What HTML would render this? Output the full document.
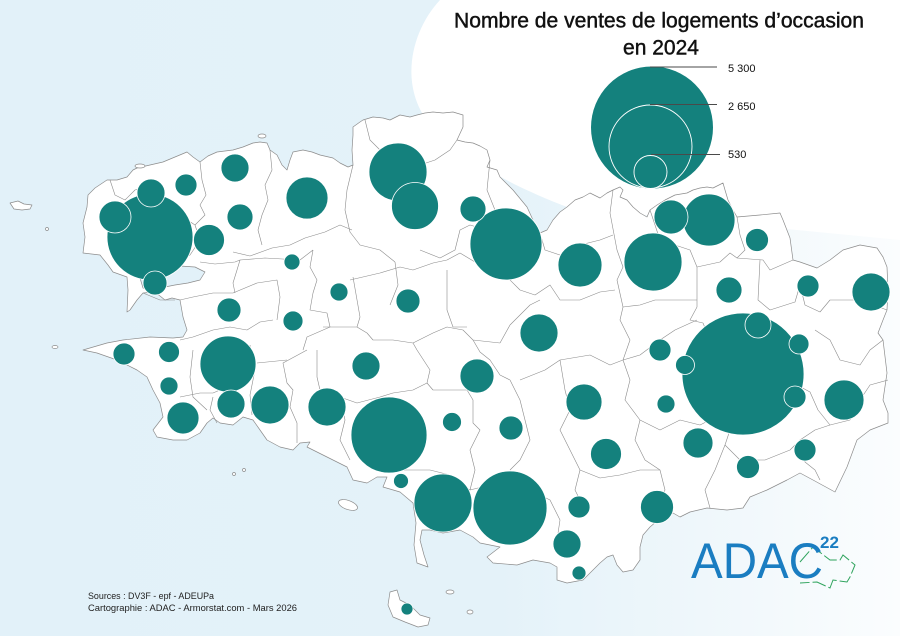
<!DOCTYPE html>
<html><head><meta charset="utf-8"><style>
html,body{margin:0;padding:0;background:#fff;}
svg{display:block;}
</style></head><body>
<svg width="900" height="636" viewBox="0 0 900 636" xmlns="http://www.w3.org/2000/svg">
<defs>
<linearGradient id="sea" x1="0" y1="0" x2="1" y2="0">
<stop offset="0" stop-color="#e2f1f9"/>
<stop offset="0.55" stop-color="#e4f2f9"/>
<stop offset="0.78" stop-color="#eff7fb"/>
<stop offset="1" stop-color="#fbfdfe"/>
</linearGradient>
</defs>
<rect x="0" y="0" width="900" height="636" fill="url(#sea)"/>
<path d="M440,0 C412,30 400,80 425,118 C450,150 500,182 570,208 L900,240 L900,0 Z" fill="#ffffff"/>

<g fill="#ffffff" stroke="#8c8c8c" stroke-width="0.7" stroke-linejoin="round">
<path d="M88,195 L95,188 L107,180 L117,180 L127,177 L133,170 L137,168 L150,165 L163,162 L175,157 L187,152 L193,157 L200,162 L208,156 L217,152 L225,151 L233,150 L243,147 L253,143 L260,142 L267,143 L270,150 L277,155 L282,165 L287,170 L290,160 L293,152 L303,150 L312,152 L320,155 L333,158 L340,163 L348,167 L353,165 L352,150 L353,135 L353,127 L360,122 L363,120 L373,117 L383,118 L390,120 L400,115 L410,117 L417,115 L425,113 L433,112 L443,113 L453,112 L463,115 L463,127 L457,140 L465,142 L473,143 L480,146 L487,150 L490,160 L487,167 L497,170 L500,177 L513,190 L527,207 L533,220 L540,233 L547,230 L553,220 L560,212 L567,207 L575,200 L583,197 L590,193 L600,198 L607,193 L613,190 L620,187 L623,190 L620,197 L627,200 L633,207 L640,213 L647,217 L650,210 L657,205 L665,200 L675,195 L687,193 L693,190 L700,188 L707,187 L713,188 L723,183 L725,190 L728,200 L733,210 L737,217 L760,215 L780,213 L783,220 L790,238 L793,260 L800,262 L817,268 L830,260 L843,250 L860,245 L877,248 L883,257 L887,267 L888,290 L887,310 L883,320 L878,333 L883,340 L887,373 L883,400 L888,413 L888,423 L870,430 L857,440 L847,467 L835,492 L813,480 L800,473 L787,480 L767,490 L750,497 L743,508 L727,510 L707,508 L690,512 L680,517 L673,513 L657,521 L650,527 L643,535 L640,547 L640,560 L633,570 L623,572 L617,565 L613,555 L607,557 L600,563 L593,570 L583,580 L567,583 L557,580 L557,567 L550,563 L533,560 L517,565 L493,563 L487,557 L500,547 L480,543 L473,537 L460,530 L443,533 L430,530 L422,530 L420,540 L424,555 L428,567 L417,563 L414,545 L416,523 L413,503 L400,492 L383,487 L387,477 L377,477 L367,483 L353,480 L347,467 L333,460 L307,447 L310,442 L300,443 L293,450 L280,447 L267,440 L260,430 L253,420 L243,417 L233,425 L220,423 L213,418 L207,423 L200,433 L187,440 L173,440 L157,437 L153,430 L163,417 L160,403 L153,390 L147,377 L137,370 L117,360 L97,353 L83,350 L107,343 L123,340 L150,337 L173,338 L183,337 L187,330 L183,317 L180,300 L172,298 L165,300 L155,292 L143,293 L137,300 L130,310 L127,312 L128,290 L127,277 L113,272 L108,265 L100,255 L83,253 L85,237 L83,223 L87,207 Z"/>
<path d="M140,278 L150,275 L165,270 L180,266 L195,267 L205,272 L200,280 L188,283 L175,285 L160,288 L150,290 L143,288 Z" fill="#e2f1f9"/>
<path d="M10,203 L18,201 L24,204 L32,205 L30,209 L22,210 L14,209 Z"/>
<path d="M390,592 L397,590 L400,600 L410,605 L420,615 L430,618 L428,625 L418,627 L405,622 L393,617 L388,605 Z"/>
<ellipse cx="348" cy="505" rx="10" ry="4.5" transform="rotate(20 348 505)"/>
<ellipse cx="450" cy="592" rx="4" ry="2"/>
<ellipse cx="470" cy="612" rx="3" ry="2"/>
<ellipse cx="55" cy="347" rx="3" ry="1.5"/>
<ellipse cx="47" cy="229" rx="1.5" ry="1.5"/>
<ellipse cx="140" cy="166" rx="5" ry="2"/>
<ellipse cx="262" cy="136" rx="4" ry="2"/>
<ellipse cx="234" cy="474" rx="1.5" ry="1.5"/>
<ellipse cx="244" cy="470" rx="1.5" ry="1.5"/>
</g>

<g fill="none" stroke="#8c8c8c" stroke-width="0.6" stroke-linejoin="round">
<polyline points="200,162 202,180 206,195 200,205 205,215 195,225"/>
<polyline points="270,150 272,170 265,185 268,200 262,215 258,230 262,245"/>
<polyline points="233,252 250,256 272,248 290,245 305,238 325,232 340,225 352,230"/>
<polyline points="200,262 215,264 235,262 240,260 237,270 233,283 235,293"/>
<polyline points="240,260 265,258 300,260 313,250"/>
<polyline points="180,300 193,297 213,293 233,293 257,283 277,280 280,297 277,320"/>
<polyline points="180,340 193,337 213,330 230,327 247,330 260,322 273,320"/>
<polyline points="313,250 310,267 317,280 313,293 310,310 327,313 330,327 307,337 303,350"/>
<polyline points="323,327 357,327 367,333 373,340 393,340 413,343 433,333 447,327 463,330 473,340 500,343"/>
<polyline points="353,277 360,317 357,327"/>
<polyline points="350,280 380,273 400,267 413,270 433,263 447,260 460,253"/>
<polyline points="447,270 447,293 447,310 453,327 467,327"/>
<polyline points="307,350 283,363 287,383 293,390 290,407 297,423 297,443"/>
<polyline points="257,363 287,360"/>
<polyline points="317,350 317,377 320,390 340,397 357,403 380,397 393,393 413,390 427,383 430,370 417,350 413,343"/>
<polyline points="427,383 433,390 467,390 473,400 473,423 480,430 470,450 475,470 470,490"/>
<polyline points="193,350 190,377 193,397 207,410"/>
<polyline points="180,397 200,393 213,393 220,390"/>
<polyline points="213,397 210,410 217,423"/>
<polyline points="353,165 347,190 345,210 350,232 360,245 380,250 395,262"/>
<polyline points="395,262 398,285 390,305"/>
<polyline points="420,250 440,258 455,250 460,230 470,225 487,230 490,215"/>
<polyline points="460,253 475,262 490,257 500,270 520,290 535,295 550,285 560,300 580,300 600,292 615,290"/>
<polyline points="490,160 487,190 495,210 490,225"/>
<polyline points="613,190 610,213 617,250 623,267 617,280 623,307 620,320 630,340 623,360"/>
<polyline points="500,343 510,325 530,305 540,300"/>
<polyline points="473,340 480,352 490,360 500,375 510,380"/>
<polyline points="697,267 697,307 690,320 703,323 710,340 700,360"/>
<polyline points="697,267 720,262 730,253 737,258 763,260 770,270 793,260"/>
<polyline points="760,260 758,300 770,310 795,302 800,285 805,305 820,312 830,300 860,300 887,310"/>
<polyline points="623,307 640,305 655,300 680,300 697,300"/>
<polyline points="623,360 640,355 660,340 675,330 697,320"/>
<polyline points="520,380 545,370 560,360 590,355 610,365 623,360"/>
<polyline points="560,360 565,390 570,410 560,430 570,450 580,470 575,490 580,500"/>
<polyline points="510,380 520,400 525,420 530,440 520,460 510,470"/>
<polyline points="623,360 630,380 625,400 640,420 660,430 680,420 700,425 720,415"/>
<polyline points="640,420 635,440 645,460 660,470 665,490 657,505"/>
<polyline points="580,470 600,478 620,475 640,470 660,470"/>
<polyline points="720,415 730,430 725,445 740,460 765,460 790,450 800,440 815,430 830,425 850,420"/>
<polyline points="725,445 715,470 705,490 710,508"/>
<polyline points="800,440 805,462 815,470 820,480"/>
<polyline points="850,420 860,400 870,385 888,380"/>
<polyline points="815,330 830,340 840,360 860,365 870,350 883,340"/>
<polyline points="797,385 810,392 818,410 830,425"/>
<polyline points="470,490 490,485 510,480 530,490 550,500 560,520 557,540 560,555"/>
<polyline points="430,470 450,475 470,490"/>
<polyline points="370,455 385,465 400,470 420,470 430,470"/>
<polyline points="340,397 345,420 340,440 350,460"/>
<polyline points="250,345 255,370 250,395 252,415"/>
<polyline points="143,293 160,300 175,300"/>
<polyline points="130,205 150,212 165,210 180,215 195,225 200,240 190,255 178,262"/>
<polyline points="110,180 115,195 125,200 135,190 150,185 165,190"/>
<polyline points="365,120 370,140 380,150 395,150 405,160 420,165 435,160 450,150 457,140"/>
<polyline points="540,233 545,250 560,255 580,245 600,240 613,235"/>
<polyline points="650,210 655,225 660,240 675,245 690,250 697,267"/>
<polyline points="737,217 740,235 745,250 737,258"/>
</g>

<g fill="#14817d" stroke="#ffffff" stroke-width="0.8">
<circle cx="743" cy="374" r="61"/>
<circle cx="150" cy="237" r="43"/>
<circle cx="389" cy="435" r="38"/>
<circle cx="510" cy="508" r="37"/>
<circle cx="506" cy="244" r="36"/>
<circle cx="398" cy="172" r="29"/>
<circle cx="653" cy="262" r="29"/>
<circle cx="443" cy="503" r="29"/>
<circle cx="228" cy="364" r="28"/>
<circle cx="709" cy="220" r="26"/>
<circle cx="415" cy="206" r="23.5"/>
<circle cx="580" cy="265" r="22"/>
<circle cx="307" cy="198" r="21"/>
<circle cx="844" cy="400" r="20"/>
<circle cx="871" cy="292" r="19"/>
<circle cx="539" cy="333" r="19"/>
<circle cx="270" cy="405" r="19"/>
<circle cx="327" cy="407" r="19"/>
<circle cx="584" cy="402" r="18"/>
<circle cx="477" cy="376" r="17"/>
<circle cx="671" cy="217" r="17"/>
<circle cx="657" cy="507" r="16.5"/>
<circle cx="115" cy="217" r="16"/>
<circle cx="183" cy="418" r="16"/>
<circle cx="209" cy="240" r="15.5"/>
<circle cx="606" cy="454" r="15.5"/>
<circle cx="698" cy="443" r="15"/>
<circle cx="151" cy="193" r="14"/>
<circle cx="235" cy="168" r="14"/>
<circle cx="366" cy="366" r="14"/>
<circle cx="231" cy="404" r="14"/>
<circle cx="567" cy="544" r="14"/>
<circle cx="473" cy="209" r="13"/>
<circle cx="240" cy="217" r="13"/>
<circle cx="729" cy="290" r="13"/>
<circle cx="758" cy="325" r="13"/>
<circle cx="155" cy="283" r="12"/>
<circle cx="229" cy="310" r="12"/>
<circle cx="408" cy="301" r="12"/>
<circle cx="511" cy="428" r="12"/>
<circle cx="757" cy="240" r="11.5"/>
<circle cx="748" cy="467" r="11.5"/>
<circle cx="186" cy="185" r="11"/>
<circle cx="124" cy="354" r="11"/>
<circle cx="579" cy="507" r="11"/>
<circle cx="808" cy="286" r="11"/>
<circle cx="660" cy="350" r="11"/>
<circle cx="795" cy="397" r="11"/>
<circle cx="805" cy="450" r="11"/>
<circle cx="169" cy="352" r="10.5"/>
<circle cx="293" cy="321" r="10"/>
<circle cx="799" cy="344" r="10"/>
<circle cx="452" cy="422" r="9.5"/>
<circle cx="685" cy="365" r="9.5"/>
<circle cx="339" cy="292" r="9"/>
<circle cx="169" cy="386" r="9"/>
<circle cx="666" cy="404" r="9"/>
<circle cx="292" cy="262" r="8"/>
<circle cx="401" cy="481" r="7.5"/>
<circle cx="579" cy="573" r="7"/>
<circle cx="407" cy="609" r="6"/>
</g>

<g stroke="#ffffff" stroke-width="0.9" fill="#14817d">
<circle cx="652" cy="127.5" r="61" stroke="none"/>
<circle cx="650.5" cy="146.5" r="41.5"/>
<circle cx="650.5" cy="172" r="16.5"/>
</g>
<g stroke="#4a4a4a" stroke-width="1">
<line x1="650" y1="67" x2="717" y2="67"/>
<line x1="650" y1="104.5" x2="717" y2="104.5"/>
<line x1="651" y1="154.5" x2="720" y2="154.5"/>
</g>
<g font-family="Liberation Sans, sans-serif" font-size="11" fill="#111">
<text x="728" y="72">5 300</text>
<text x="728" y="110">2 650</text>
<text x="728" y="158">530</text>
</g>

<g font-family="Liberation Sans, sans-serif" fill="#111" stroke="#111" stroke-width="0.45" text-anchor="middle">
<text x="659" y="27.5" font-size="21" textLength="410" lengthAdjust="spacingAndGlyphs">Nombre de ventes de logements d’occasion</text>
<text x="661" y="54.5" font-size="21">en 2024</text>
</g>

<g font-family="Liberation Sans, sans-serif" font-size="9.5" fill="#222">
<text x="88" y="599" textLength="126" lengthAdjust="spacingAndGlyphs">Sources : DV3F - epf - ADEUPa</text>
<text x="88" y="611" textLength="209" lengthAdjust="spacingAndGlyphs">Cartographie : ADAC - Armorstat.com - Mars 2026</text>
</g>

<polyline points="800,562 813,547 830,560 840,560 843,555 855,565 850,577 847,582 833,580 830,588 817,582 800,583" fill="none" stroke="#2ea35c" stroke-width="1" stroke-dasharray="14,3"/>
<text x="691" y="578" font-family="Liberation Sans, sans-serif" font-size="50" fill="#1a7dc1" textLength="132" lengthAdjust="spacingAndGlyphs">ADAC</text>
<text x="820" y="548" font-family="Liberation Sans, sans-serif" font-size="17" font-weight="bold" fill="#1a7dc1">22</text>
</svg>
</body></html>
